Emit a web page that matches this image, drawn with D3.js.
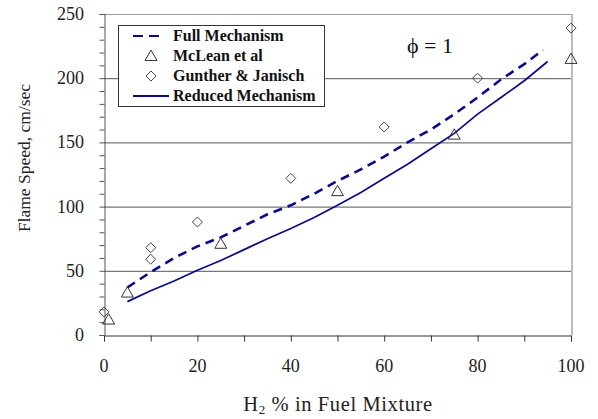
<!DOCTYPE html>
<html>
<head>
<meta charset="utf-8">
<script src="https://cdn.jsdelivr.net/npm/d3@7"></script>
<style>
  html, body { margin: 0; padding: 0; background: #fff; }
  svg { display: block; font-family: "Liberation Serif", "Times New Roman", serif; }
</style>
</head>
<body>
<svg id="chart" width="598" height="419"></svg>
<script>
// H2 content (%) for the computed curves
const modelX = [5, 10, 15, 20, 25, 30, 35, 40, 45, 50, 55, 60, 65, 70, 75, 80, 85, 90, 94];
const fullMechanism = [37, 49, 60, 69, 76, 85, 94, 101, 110, 120, 129, 139, 150, 160, 172, 185, 199, 211, 222];

const reducedX = [5, 10, 15, 20, 25, 30, 35, 40, 45, 50, 55, 60, 65, 70, 75, 80, 85, 90, 95];
const reducedMechanism = [26, 34.5, 42, 50.5, 58, 66.5, 75, 83, 91.5, 101, 111, 122, 133, 145, 157, 172, 185, 198, 213];

// Measured flame speeds
const mcleanX = [1, 5, 25, 50, 75, 100];
const mcleanY = [12, 33, 71, 112, 156, 215];
const guntherX = [0, 10, 10, 20, 40, 60, 80, 100];
const guntherY = [18, 59, 68, 88, 122, 162, 200, 239];

const xTicks = [0, 20, 40, 60, 80, 100];
const yTicks = [0, 50, 100, 150, 200, 250];

const legendLabels = ["Full Mechanism", "McLean et al", "Gunther & Janisch", "Reduced Mechanism"];

const svg = d3.select("#chart");
const plotL = 104, plotR = 571, plotT = 14, plotB = 335;

const x = d3.scaleLinear().domain([0, 100]).range([plotL, plotR]);
const y = d3.scaleLinear().domain([0, 250]).range([plotB, plotT]);

const navy = "#0a0a8a";

// horizontal grid lines
svg.append("g").selectAll("line")
  .data(yTicks.filter(v => v > 0 && v < 250))
  .join("line")
  .attr("x1", plotL).attr("x2", plotR)
  .attr("y1", d => y(d) + 0.5).attr("y2", d => y(d) + 0.5)
  .attr("stroke", "#555").attr("stroke-width", 1);

// top and right frame
svg.append("line").attr("x1", plotL).attr("x2", plotR + 1)
  .attr("y1", y(250) + 0.5).attr("y2", y(250) + 0.5)
  .attr("stroke", "#999").attr("stroke-width", 1);
svg.append("line").attr("x1", plotR + 1).attr("x2", plotR + 1)
  .attr("y1", y(250)).attr("y2", plotB)
  .attr("stroke", "#aaa").attr("stroke-width", 1.6);

// axes
const xAxis = d3.axisBottom(x).tickValues(d3.range(0, 101, 10)).tickSize(6).tickFormat("");
const gx = svg.append("g").attr("transform", `translate(0,${plotB + 0.5})`).call(xAxis);
gx.select(".domain").attr("stroke", "#333");
gx.selectAll(".tick line").attr("stroke", "#333");

const yAxis = d3.axisLeft(y).tickValues(d3.range(0, 251, 10)).tickSize(5).tickFormat("");
const gy = svg.append("g").attr("transform", `translate(${plotL + 0.5},0)`).call(yAxis);
gy.select(".domain").attr("stroke", "#555");
gy.selectAll(".tick line").attr("stroke", "#555");

// tick labels
svg.append("g").selectAll("text")
  .data(xTicks).join("text")
  .attr("x", d => x(d)).attr("y", 372)
  .attr("text-anchor", "middle")
  .attr("font-size", 18).attr("fill", "#222")
  .text(d => d);

svg.append("g").selectAll("text")
  .data(yTicks).join("text")
  .attr("x", 84).attr("y", d => y(d) + 6)
  .attr("text-anchor", "end")
  .attr("font-size", 18).attr("fill", "#222")
  .text(d => d);

// axis titles
const xt = svg.append("text")
  .attr("x", 338).attr("y", 411)
  .attr("text-anchor", "middle")
  .attr("font-size", 20.5).attr("fill", "#222")
  .attr("letter-spacing", 0.6);
xt.append("tspan").text("H");
xt.append("tspan").attr("font-size", 13).attr("dy", 3).text("2");
xt.append("tspan").attr("dy", -3).text(" % in Fuel Mixture");

svg.append("text")
  .attr("transform", `translate(30,158) rotate(-90)`)
  .attr("text-anchor", "middle")
  .attr("font-size", 17.5).attr("fill", "#222")
  .text("Flame Speed, cm/sec");

// computed curves
const fullLine = d3.line().x((d, i) => x(modelX[i])).y(d => y(d));
svg.append("path")
  .attr("d", fullLine(fullMechanism))
  .attr("fill", "none").attr("stroke", navy)
  .attr("stroke-width", 2.6).attr("stroke-dasharray", "9,6");

const redLine = d3.line().x((d, i) => x(reducedX[i])).y(d => y(d));
svg.append("path")
  .attr("d", redLine(reducedMechanism))
  .attr("fill", "none").attr("stroke", navy)
  .attr("stroke-width", 1.7);

// measurement markers
const tri = d3.symbol().type(d3.symbolTriangle).size(62);
const dia = (cx, cy, r) => `M${cx},${cy - r}L${cx + r},${cy}L${cx},${cy + r}L${cx - r},${cy}Z`;

svg.append("g").selectAll("path")
  .data(mcleanY).join("path")
  .attr("d", tri())
  .attr("transform", (d, i) => `translate(${x(mcleanX[i])},${y(d) + 1})`)
  .attr("fill", "none").attr("stroke", "#333").attr("stroke-width", 1);

svg.append("g").selectAll("path")
  .data(guntherY).join("path")
  .attr("d", (d, i) => dia(x(guntherX[i]), y(d), 5))
  .attr("fill", "none").attr("stroke", "#444").attr("stroke-width", 1);

// equivalence ratio annotation
const phi = svg.append("text")
  .attr("x", 430).attr("y", 53)
  .attr("text-anchor", "middle")
  .attr("font-size", 22).attr("fill", "#111");
phi.append("tspan").text("\u03D5 = 1");

// legend
const lg = svg.append("g");
lg.append("rect")
  .attr("x", 118.5).attr("y", 25.5).attr("width", 206).attr("height", 81)
  .attr("fill", "#fff").attr("stroke", "#333").attr("stroke-width", 1);

const rowY = [36, 56, 76, 96];
lg.append("line").attr("x1", 133).attr("x2", 164).attr("y1", rowY[0]).attr("y2", rowY[0])
  .attr("stroke", navy).attr("stroke-width", 2.2).attr("stroke-dasharray", "10,6");
lg.append("path").attr("d", tri()).attr("transform", `translate(151,${rowY[1] + 1})`)
  .attr("fill", "none").attr("stroke", "#333");
lg.append("path").attr("d", dia(151, rowY[2], 5))
  .attr("fill", "none").attr("stroke", "#444");
lg.append("line").attr("x1", 133).attr("x2", 169).attr("y1", rowY[3]).attr("y2", rowY[3])
  .attr("stroke", navy).attr("stroke-width", 1.8);

lg.selectAll("text.lab")
  .data(legendLabels).join("text")
  .attr("class", "lab")
  .attr("x", 173).attr("y", (d, i) => rowY[i] + 5)
  .attr("font-size", 16).attr("font-weight", "bold").attr("fill", "#111")
  .text(d => d);
</script>
</body>
</html>
